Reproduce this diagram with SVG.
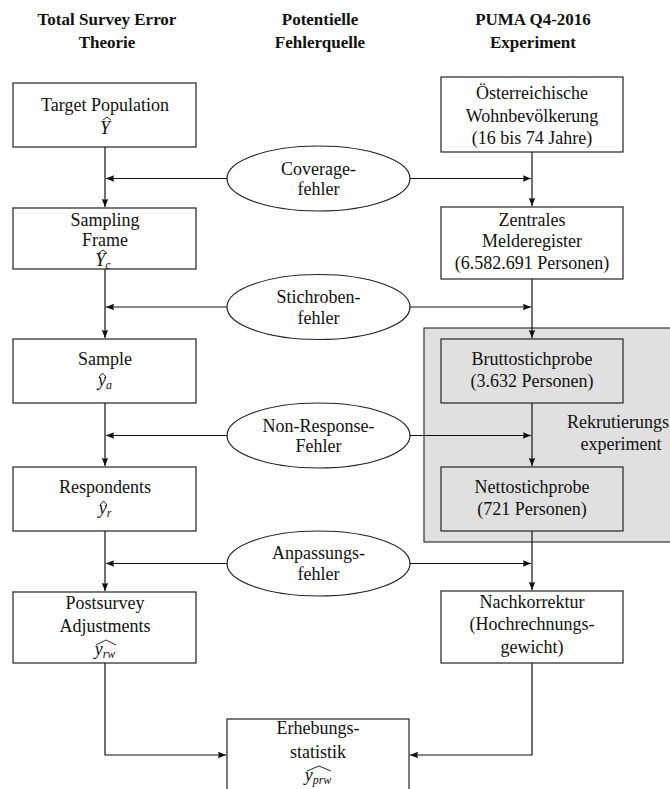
<svg xmlns="http://www.w3.org/2000/svg" width="670" height="789" viewBox="0 0 670 789">
<style>
text{font-family:'Liberation Serif',serif;font-size:18px;fill:#111;text-anchor:middle}
.h{font-weight:bold;font-size:17px}
.box{fill:#fff;stroke:#222;stroke-width:1.2}
.gbox{fill:#e0e0e0;stroke:#222;stroke-width:1.2}
.ell{fill:#fff;stroke:#222;stroke-width:1.2}
.ln{fill:none;stroke:#111;stroke-width:1.2}
.hat{fill:none;stroke:#111;stroke-width:0.9}
.i{font-style:italic}
.s{font-size:12px;font-style:italic}
</style>
<defs>
<marker id="ar" markerUnits="userSpaceOnUse" markerWidth="10" markerHeight="8" refX="8" refY="4" orient="auto">
<path d="M0,0.8 L8,4 L0,7.2 Q1.6,4 0,0.8 z" fill="#111"/>
</marker>
</defs>
<rect width="670" height="789" fill="#fff"/>
<g id="headers" font-family="Liberation Serif, serif">
<text class="h" x="107" y="25">Total Survey Error</text>
<text class="h" x="107" y="48">Theorie</text>
<text class="h" x="320" y="25">Potentielle</text>
<text class="h" x="320" y="48">Fehlerquelle</text>
<text class="h" x="533" y="25">PUMA Q4-2016</text>
<text class="h" x="533" y="48">Experiment</text>
</g>
<g id="recruit-group">
<rect x="424" y="328" width="270" height="214" fill="#e0e0e0" stroke="#333" stroke-width="1.2"/>
<text x="567" y="428" style="text-anchor:start">Rekrutierungs</text>
<text x="621" y="450">experiment</text>
</g>
<g id="connectors">
<path class="ln" d="M105,147 V207" marker-end="url(#ar)"/>
<path class="ln" d="M105,269 V338" marker-end="url(#ar)"/>
<path class="ln" d="M105,403 V466" marker-end="url(#ar)"/>
<path class="ln" d="M105,531 V591" marker-end="url(#ar)"/>
<path class="ln" d="M105,663 V755 H226" marker-end="url(#ar)"/>
<path class="ln" d="M532,152 V206" marker-end="url(#ar)"/>
<path class="ln" d="M532,279 V338" marker-end="url(#ar)"/>
<path class="ln" d="M532,403 V466" marker-end="url(#ar)"/>
<path class="ln" d="M532,531 V590" marker-end="url(#ar)"/>
<path class="ln" d="M532,663 V755 H410" marker-end="url(#ar)"/>
<path class="ln" d="M227,178.5 H106" marker-end="url(#ar)"/>
<path class="ln" d="M410,178.5 H531" marker-end="url(#ar)"/>
<path class="ln" d="M227,307 H106" marker-end="url(#ar)"/>
<path class="ln" d="M410,307 H531" marker-end="url(#ar)"/>
<path class="ln" d="M227,435.5 H106" marker-end="url(#ar)"/>
<path class="ln" d="M410,435.5 H531" marker-end="url(#ar)"/>
<path class="ln" d="M227,563.5 H106" marker-end="url(#ar)"/>
<path class="ln" d="M410,563.5 H531" marker-end="url(#ar)"/>
</g>
<g id="target-population">
<rect class="box" x="13" y="83" width="183" height="64"/>
<text x="105" y="111">Target Population</text>
<text x="105" y="134" class="i">Y</text>
<path class="hat" d="M103,120 L107,117 L111,120"/>
</g>
<g id="sampling-frame">
<rect class="box" x="13" y="208" width="183" height="61"/>
<text x="105" y="226">Sampling</text>
<text x="105" y="246">Frame</text>
<text x="103" y="266"><tspan class="i">Y</tspan><tspan class="s" dy="3">c</tspan></text>
<path class="hat" d="M99,253 L103,250 L107,253"/>
</g>
<g id="sample">
<rect class="box" x="13" y="339" width="183" height="64"/>
<text x="105" y="365">Sample</text>
<text x="105" y="386"><tspan class="i">y</tspan><tspan class="s" dy="3">a</tspan></text>
<path class="hat" d="M99,377 L102.5,373 L106,377"/>
</g>
<g id="respondents">
<rect class="box" x="13" y="467" width="183" height="64"/>
<text x="105" y="493">Respondents</text>
<text x="105" y="514"><tspan class="i">y</tspan><tspan class="s" dy="3">r</tspan></text>
<path class="hat" d="M100,505 L103.5,501 L107,505"/>
</g>
<g id="postsurvey">
<rect class="box" x="13" y="592" width="183" height="71"/>
<text x="105" y="609">Postsurvey</text>
<text x="105" y="632">Adjustments</text>
<text x="105" y="655"><tspan class="i">y</tspan><tspan class="s" dy="3">rw</tspan></text>
<path class="hat" d="M96,645 L106,640 L116,645"/>
</g>
<g id="erhebungsstatistik">
<rect class="box" x="227" y="719" width="182" height="90"/>
<text x="318" y="734">Erhebungs-</text>
<text x="318" y="758">statistik</text>
<text x="318" y="781"><tspan class="i">y</tspan><tspan class="s" dy="3">prw</tspan></text>
<path class="hat" d="M307,771 L319,766 L331,771"/>
</g>
<g id="oesterreich">
<rect class="box" x="441" y="77" width="182" height="75"/>
<text x="532" y="99">Österreichische</text>
<text x="532" y="122">Wohnbevölkerung</text>
<text x="532" y="144">(16 bis 74 Jahre)</text>
</g>
<g id="zmr">
<rect class="box" x="441" y="207" width="182" height="72"/>
<text x="532" y="226">Zentrales</text>
<text x="532" y="247">Melderegister</text>
<text x="532" y="269">(6.582.691 Personen)</text>
</g>
<g id="brutto">
<rect class="gbox" x="441" y="339" width="182" height="64"/>
<text x="532" y="365">Bruttostichprobe</text>
<text x="532" y="387">(3.632 Personen)</text>
</g>
<g id="netto">
<rect class="gbox" x="441" y="467" width="182" height="64"/>
<text x="532" y="493">Nettostichprobe</text>
<text x="532" y="515">(721 Personen)</text>
</g>
<g id="nachkorrektur">
<rect class="box" x="441" y="591" width="182" height="72"/>
<text x="532" y="608">Nachkorrektur</text>
<text x="532" y="630">(Hochrechnungs-</text>
<text x="532" y="653">gewicht)</text>
</g>
<g id="coverage">
<ellipse class="ell" cx="318.5" cy="178.5" rx="91.5" ry="32.5"/>
<text x="318.5" y="175">Coverage-</text>
<text x="318.5" y="195">fehler</text>
</g>
<g id="stichproben">
<ellipse class="ell" cx="318.5" cy="307" rx="91.5" ry="32.5"/>
<text x="318.5" y="303">Stichroben-</text>
<text x="318.5" y="324">fehler</text>
</g>
<g id="nonresponse">
<ellipse class="ell" cx="318.5" cy="435.5" rx="91.5" ry="32.5"/>
<text x="318.5" y="432">Non-Response-</text>
<text x="318.5" y="452">Fehler</text>
</g>
<g id="anpassung">
<ellipse class="ell" cx="318.5" cy="563.5" rx="91.5" ry="32.5"/>
<text x="318.5" y="559">Anpassungs-</text>
<text x="318.5" y="580">fehler</text>
</g>
</svg>
